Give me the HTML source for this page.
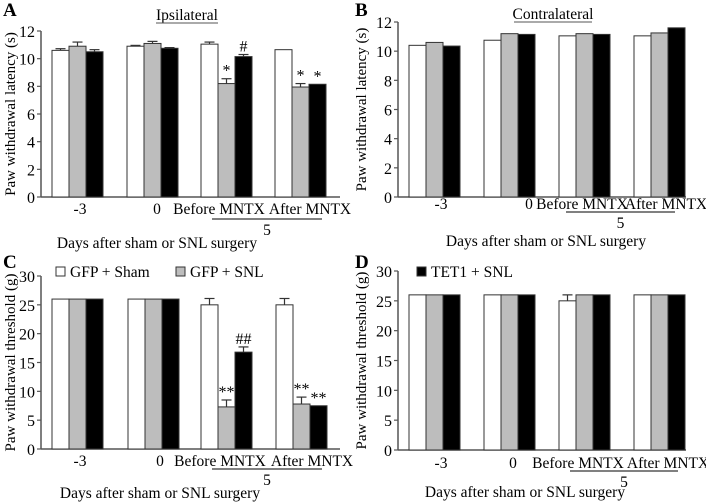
<!DOCTYPE html>
<html><head><meta charset="utf-8">
<style>
body{margin:0;background:#fff;}
svg{display:block;font-family:"Liberation Serif",serif;}
</style></head>
<body>
<svg id="fig" width="706" height="503" viewBox="0 0 706 503" xmlns="http://www.w3.org/2000/svg"></svg>
<script>
// ---- data ----
const categories = ["-3","0","Before MNTX","After MNTX"];
const seriesNames = ["GFP + Sham","GFP + SNL","TET1 + SNL"];
const aWhite=[10.6,10.9,11.05,10.65], aGray=[10.9,11.1,8.2,7.95], aBlack=[10.5,10.75,10.15,8.15];
const aWhiteErr=[0.12,0.06,0.15,0], aGrayErr=[0.3,0.15,0.35,0.25], aBlackErr=[0.15,0.05,0.15,0];
const bWhite=[10.4,10.75,11.05,11.05], bGray=[10.6,11.2,11.2,11.25], bBlack=[10.35,11.15,11.15,11.6];
const bWhiteErr=[0,0,0,0], bGrayErr=[0,0,0,0], bBlackErr=[0,0,0,0];
const cWhite=[26,26,25,25], cGray=[26,26,7.3,7.8], cBlack=[26,26,16.8,7.5];
const cWhiteErr=[0,0,1.1,1.1], cGrayErr=[0,0,1.2,1.2], cBlackErr=[0,0,0.9,0];
const dWhite=[26,26,25,26], dGray=[26,26,26,26], dBlack=[26,26,26,26];
const dWhiteErr=[0,0,1,0], dGrayErr=[0,0,0,0], dBlackErr=[0,0,0,0];
const ticksLatency=[0,2,4,6,8,10,12];
const ticksThreshold=[0,5,10,15,20,25,30];
const aMarks=[[],[],["*","#"],["*","*"]];
const cMarks=[[],[],["**","##"],["**","**"]];

const NS="http://www.w3.org/2000/svg";
const svg=document.getElementById('fig');
function el(tag,attrs,parent,txt){const e=document.createElementNS(NS,tag);for(const k in attrs)e.setAttribute(k,attrs[k]);if(txt!==undefined)e.textContent=txt;(parent||svg).appendChild(e);return e;}

const FS=15.5;
const fills=["#ffffff","#bdbdbd","#000000"];
function panel(p){
  const g=el('g',{});
  
  
  const y=v=>p.y0-(v/p.max)*(p.y0-p.yTop);
  const ax=el('line',{x1:p.ax,y1:p.yTop,x2:p.ax,y2:p.y0,stroke:'#555','stroke-width':1.5},g);
  
  const xa=el('line',{x1:p.ax,y1:p.y0,x2:p.axEnd,y2:p.y0,stroke:'#555','stroke-width':1.5},g);
  
  p.ticks.forEach(t=>{
    el('line',{x1:p.ax-4,y1:y(t),x2:p.ax,y2:y(t),stroke:'#555','stroke-width':1.2},g);
    const tl=el('text',{x:p.ax-6,y:y(t)+6,'text-anchor':'end','font-size':16},g,String(t));
    
  });
  const bw=17;
  p.series.forEach((s,si)=>{
    s.forEach((v,ci)=>{
      const x=p.groups[ci]+si*bw;
      const r=el('rect',{x:x,y:y(v),width:bw,height:p.y0-y(v),fill:fills[si],stroke:'#333','stroke-width':1},g);
      
      
      const e=p.errs[si][ci];
      if(e>0){
        el('line',{x1:x+bw/2,y1:y(v),x2:x+bw/2,y2:y(v+e),stroke:'#333','stroke-width':1.2},g);
        el('line',{x1:x+bw/2-5,y1:y(v+e),x2:x+bw/2+5,y2:y(v+e),stroke:'#333','stroke-width':1.2},g);
      }
      if(p.marks&&p.marks[ci].length&&si>0){
        const m=p.marks[ci][si-1];
        const t=el('text',{x:x+bw/2,y:y(v+e)-3,'text-anchor':'middle','font-size':16},g,m);
        
      }
    });
  });
  categories.forEach((c,i)=>{
    const t=el('text',{x:p.labX[i],y:p.labY,'text-anchor':'middle','font-size':FS},g,c);
    
  });
  el('line',{x1:p.ul[0],y1:p.ulY,x2:p.ul[1],y2:p.ulY,stroke:'#000','stroke-width':1},g);
  const f=el('text',{x:(p.ul[0]+p.ul[1])/2,y:p.ulY+16,'text-anchor':'middle','font-size':FS},g,'5');
  
  const xt=el('text',{x:p.xtX,y:p.xtY,'text-anchor':'middle','font-size':FS},g,'Days after sham or SNL surgery');
  
  const cy=(p.yTop+p.y0)/2;
  const yt=el('text',{x:p.ytX,y:cy,'text-anchor':'middle','font-size':15,transform:'rotate(-90 '+p.ytX+' '+cy+')'},g,p.ytitle);
  
  const L=el('text',{x:p.letter[0],y:p.letter[1],'font-size':19,'font-weight':'bold'},g,p.id);
  
  if(p.title){
    const tt=el('text',{x:p.title[1],y:p.title[2],'text-anchor':'middle','font-size':FS},g,p.title[0]);
    
    const w=p.title[3];
    el('line',{x1:p.title[1]-w/2,y1:p.title[2]+3,x2:p.title[1]+w/2,y2:p.title[2]+3,stroke:'#555','stroke-width':1},g);
  }
}
panel({id:'A',ax:41,axEnd:340,yTop:31,y0:197,max:12,ticks:ticksLatency,groups:[52,127,201,275],
  series:[aWhite,aGray,aBlack],errs:[aWhiteErr,aGrayErr,aBlackErr],marks:aMarks,
  labX:[80,157,219,310],labY:214,ul:[212,322],ulY:219,xtX:157,xtY:248,ytX:15,
  ytitle:'Paw withdrawal latency (s)',letter:[3,16],title:['Ipsilateral',187,20,62]});
panel({id:'B',ax:398,axEnd:686,yTop:22,y0:197,max:12,ticks:ticksLatency,groups:[409,484,559,634],
  series:[bWhite,bGray,bBlack],errs:[bWhiteErr,bGrayErr,bBlackErr],
  labX:[441,529,582,666],labY:209,ul:[566,675],ulY:212,xtX:546,xtY:246,ytX:366,
  ytitle:'Paw withdrawal latency (s)',letter:[355,16],title:['Contralateral',553,19,78]});
panel({id:'C',ax:41,axEnd:340,yTop:276,y0:449,max:30,ticks:ticksThreshold,groups:[52,128,201,276],
  series:[cWhite,cGray,cBlack],errs:[cWhiteErr,cGrayErr,cBlackErr],marks:cMarks,
  labX:[80,160,220,312],labY:466,ul:[212,322],ulY:469,xtX:160,xtY:498,ytX:15,
  ytitle:'Paw withdrawal threshold (g)',letter:[3,268]});
panel({id:'D',ax:398,axEnd:686,yTop:271,y0:450,max:30,ticks:ticksThreshold,groups:[409,484,559,634],
  series:[dWhite,dGray,dBlack],errs:[dWhiteErr,dGrayErr,dBlackErr],
  labX:[441,513,578,668],labY:468,ul:[570,678],ulY:471,xtX:525,xtY:497,ytX:366,
  ytitle:'Paw withdrawal threshold (g)',letter:[355,268]});
function legend(x,yy,fill,label){
  const g=el('g',{});
  
  
  el('rect',{x:x,y:yy,width:9,height:9,fill:fill,stroke:'#333','stroke-width':1},g);
  el('text',{x:x+14,y:yy+10,'font-size':FS},g,label);
}
legend(56,267,fills[0],seriesNames[0]);
legend(176,267,fills[1],seriesNames[1]);
legend(417,267,fills[2],seriesNames[2]);
</script>
</body></html>
